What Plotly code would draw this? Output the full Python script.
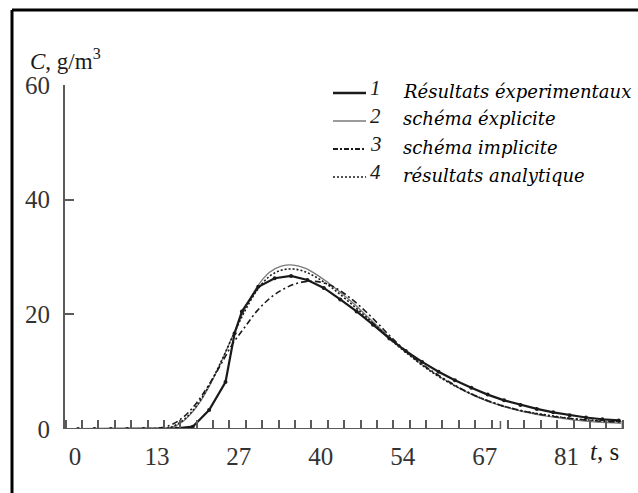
import plotly.graph_objects as go

# ---- data -------------------------------------------------------------
# 1: experimental results (measured points)
t_exp = [0.5, 3.2, 5.9, 8.6, 11.3, 14.0, 16.7, 19.4, 22.1, 24.8, 26.3, 27.5,
         30.2, 32.9, 35.6, 38.3, 41.0, 43.7, 46.4, 49.1, 51.8, 54.5, 57.2,
         59.9, 62.6, 65.3, 68.0, 70.7, 73.4, 76.1, 78.8, 81.5, 84.2, 86.9, 89.6]
c_exp = [0.0, 0.0, 0.0, 0.0, 0.0, 0.0, 0.1, 0.4, 3.3, 8.2, 16.7, 20.5,
         24.8, 26.3, 26.7, 26.0, 24.6, 22.6, 20.5, 18.2, 15.8, 13.6, 11.7,
         10.0, 8.5, 7.2, 6.0, 5.0, 4.2, 3.5, 2.9, 2.4, 2.0, 1.7, 1.5]

# model curves share one time grid
t_mod = [0, 14, 16, 18, 20, 22, 24, 26, 28, 30, 32, 34, 36, 38, 40, 42, 44,
         46, 48, 50, 52, 54, 56, 58, 60, 63, 66, 70, 74, 78, 82, 86, 90]
# 2: explicit scheme
c_expl = [0.0, 0.0, 0.3, 1.5, 3.8, 7.2, 11.5, 16.3, 21.0, 24.8, 27.3, 28.4,
          28.6, 28.0, 26.8, 25.3, 23.6, 21.8, 19.8, 17.8, 15.8, 13.9, 12.2,
          10.6, 9.2, 7.3, 5.7, 4.1, 3.0, 2.2, 1.6, 1.2, 1.0]
# 3: implicit scheme
c_impl = [0.0, 0.2, 0.8, 2.2, 4.5, 7.6, 11.2, 14.9, 17.8, 20.6, 22.7, 24.2,
          25.2, 25.7, 25.7, 25.1, 23.9, 22.3, 20.4, 18.3, 16.1, 14.1, 12.3,
          10.7, 9.3, 7.4, 5.8, 4.2, 3.1, 2.3, 1.8, 1.4, 1.2]
# 4: analytical results
c_anal = [0.0, 0.0, 0.4, 1.7, 4.0, 7.4, 11.6, 16.2, 20.6, 24.2, 26.6, 27.7,
          27.9, 27.4, 26.3, 24.9, 23.2, 21.4, 19.5, 17.6, 15.6, 13.8, 12.1,
          10.5, 9.1, 7.3, 5.8, 4.2, 3.1, 2.4, 1.8, 1.5, 1.3]

x_tickvals = [0, 13.5, 27, 40.5, 54, 67.5, 81]
x_ticktext = ["0", "13", "27", "40", "54", "67", "81"]
y_tickvals = [0, 20, 40, 60]

legend_nums = ["1", "2", "3", "4"]
legend_text = ["Résultats éxperimentaux", "schéma éxplicite",
               "schéma implicite", "résultats analytique"]

# ---- geometry ---------------------------------------------------------
W, H = 638, 493
L, R, T, B = 65, 15, 85, 64
PW, PH = W - L - R, H - T - B


def px(x):
    return (x - L) / PW


def py(y):
    return (H - B - y) / PH


SERIF = "Liberation Serif"
INK = "#1a1a1a"
AXIS = "#5a5a5a"

fig = go.Figure()
fig.add_trace(go.Scatter(x=t_mod, y=c_expl, mode="lines",
                         line=dict(color="#7a7a7a", width=1.3, shape="spline")))
fig.add_trace(go.Scatter(x=t_mod, y=c_anal, mode="lines",
                         line=dict(color=INK, width=1.6, dash="2px,2px", shape="spline")))
fig.add_trace(go.Scatter(x=t_mod, y=c_impl, mode="lines",
                         line=dict(color=INK, width=1.6, dash="6px,3px,2px,3px", shape="spline")))
fig.add_trace(go.Scatter(x=t_exp, y=c_exp, mode="lines+markers",
                         line=dict(color=INK, width=2.2),
                         marker=dict(color=INK, size=4)))

shapes = []
# outer frame (top and left edges)
shapes.append(dict(type="line", xref="paper", yref="paper",
                   x0=px(12), x1=px(W + 5), y0=py(10), y1=py(10),
                   line=dict(color="black", width=3)))
shapes.append(dict(type="line", xref="paper", yref="paper",
                   x0=px(12), x1=px(12), y0=py(10), y1=py(H + 5),
                   line=dict(color="black", width=3)))
# broken time axis
for a, b in [(-1.65, 70.1), (71.3, 90.2)]:
    shapes.append(dict(type="line", xref="x", yref="y", x0=a, x1=b, y0=0, y1=0,
                       line=dict(color=AXIS, width=1.8)))
for a in [70.1, 71.3, 90.2]:
    shapes.append(dict(type="line", xref="x", yref="paper", x0=a, x1=a,
                       y0=0, y1=8 / PH, line=dict(color=AXIS, width=1.5)))

annotations = []
# legend rows: sample line, number, description
row_y = [93, 121, 149, 177]
styles = [dict(color=INK, width=2.4), dict(color="#7a7a7a", width=1.3),
          dict(color=INK, width=1.8, dash="5px,2px,2px,2px"),
          dict(color=INK, width=1.6, dash="2px,2px")]
for yy, st, num, txt in zip(row_y, styles, legend_nums, legend_text):
    shapes.append(dict(type="line", xref="paper", yref="paper",
                       x0=px(333), x1=px(366), y0=py(yy), y1=py(yy), line=st))
    annotations.append(dict(xref="paper", yref="paper", x=px(368), y=py(yy - 5),
                            xanchor="left", yanchor="middle", showarrow=False,
                            text=f"<i>{num}</i>",
                            font=dict(family=SERIF, size=21, color=INK)))
    annotations.append(dict(xref="paper", yref="paper", x=px(401), y=py(yy - 2),
                            xanchor="left", yanchor="middle", showarrow=False,
                            text=f"<i>{txt}</i>",
                            font=dict(family="DejaVu Serif", size=18, color="#000000")))

# axis titles
annotations.append(dict(xref="paper", yref="paper", x=px(28), y=py(59),
                        xanchor="left", yanchor="middle", showarrow=False,
                        text="<i>C</i>, g/m<sup>3</sup>",
                        font=dict(family=SERIF, size=23, color=INK)))
annotations.append(dict(xref="paper", yref="paper", x=px(588), y=py(452),
                        xanchor="left", yanchor="middle", showarrow=False,
                        text="<i>t</i>, s",
                        font=dict(family=SERIF, size=25, color=INK)))

fig.update_layout(
    width=W, height=H,
    margin=dict(l=L, r=R, t=T, b=B, pad=0),
    paper_bgcolor="white", plot_bgcolor="white",
    showlegend=False,
    shapes=shapes, annotations=annotations,
    xaxis=dict(range=[-1.65, 90.3], showgrid=False, zeroline=False, showline=False,
               tickmode="array", tickvals=x_tickvals, ticktext=x_ticktext,
               ticks="", ticklabelstandoff=10,
               minor=dict(ticks="inside", ticklen=9, tickwidth=1.5, tickcolor=AXIS,
                          tick0=1.15, dtick=2.7, showgrid=False),
               tickfont=dict(family=SERIF, size=25, color="#333333")),
    yaxis=dict(range=[0, 60], showgrid=False, zeroline=False, showline=True,
               linecolor=AXIS, linewidth=2, tickvals=y_tickvals,
               ticks="inside", ticklen=9, tickwidth=1.6, tickcolor=AXIS,
               ticklabelstandoff=8,
               tickfont=dict(family=SERIF, size=25, color="#333333")),
)

fig.write_html("out.html")
